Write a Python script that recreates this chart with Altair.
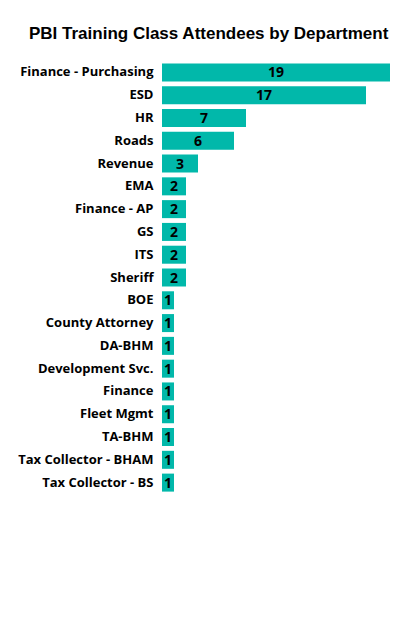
import altair as alt
import pandas as pd

departments = [
    "Finance - Purchasing", "ESD", "HR", "Roads", "Revenue", "EMA",
    "Finance - AP", "GS", "ITS", "Sheriff", "BOE", "County Attorney",
    "DA-BHM", "Development Svc.", "Finance", "Fleet Mgmt", "TA-BHM",
    "Tax Collector - BHAM", "Tax Collector - BS",
]
attendees = [19, 17, 7, 6, 3, 2, 2, 2, 2, 2, 1, 1, 1, 1, 1, 1, 1, 1, 1]

df = pd.DataFrame({"Department": departments, "Attendees": attendees})

y_enc = alt.Y(
    "Department:N",
    sort=departments,
    scale=alt.Scale(paddingInner=0.21, paddingOuter=0.105),
    axis=alt.Axis(
        title=None, domain=False, ticks=False,
        labelFont="Open Sans", labelFontWeight="bold", labelFontSize=13,
        labelColor="#000000", labelPadding=9, labelLimit=200,
    ),
)

base = alt.Chart(df).encode(y=y_enc)

bars = base.mark_bar(color="#01B8AA").encode(
    x=alt.X("Attendees:Q", axis=None, scale=alt.Scale(domain=[0, 19], nice=False)),
)

labels = base.transform_calculate(mid="datum.Attendees / 2").mark_text(
    font="Open Sans", fontWeight="bold", fontSize=14, color="#000000", dy=1,
).encode(
    x=alt.X("mid:Q"),
    text=alt.Text("Attendees:Q"),
)

chart = alt.layer(bars, labels).properties(
    width=228,
    height=433,
    title=alt.TitleParams(
        "PBI Training Class Attendees by Department",
        anchor="start", frame="group", dx=-133, offset=18,
        font="Liberation Sans", fontSize=17, fontWeight="bold", color="#000000",
    ),
    autosize=alt.AutoSizeParams(type="none"),
    padding={"left": 154, "top": 53, "right": 11, "bottom": 133},
    background="#ffffff",
).configure_view(stroke=None)

chart.save("out.html", embed_options={"renderer": "svg", "actions": False})
